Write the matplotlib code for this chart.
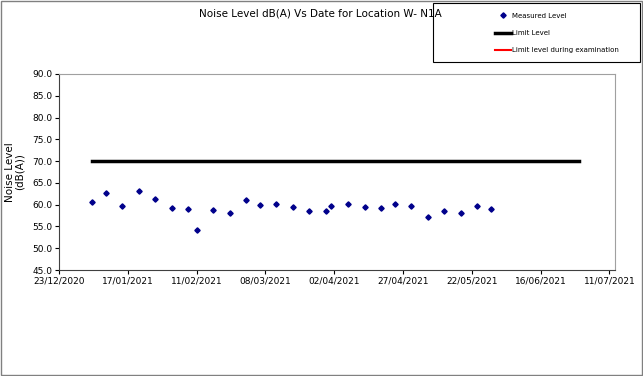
import datetime as dt
import matplotlib
matplotlib.use("Agg")
import matplotlib.pyplot as plt
import matplotlib.dates as mdates
from matplotlib.patches import Rectangle

# measured noise levels, dB(A)
dates = ["04/01/2021", "09/01/2021", "15/01/2021", "21/01/2021", "27/01/2021",
         "02/02/2021", "08/02/2021", "11/02/2021", "17/02/2021", "23/02/2021",
         "01/03/2021", "06/03/2021", "12/03/2021", "18/03/2021", "24/03/2021",
         "30/03/2021", "01/04/2021", "07/04/2021", "13/04/2021", "19/04/2021",
         "24/04/2021", "30/04/2021", "06/05/2021", "12/05/2021", "18/05/2021",
         "24/05/2021", "29/05/2021"]
levels = [60.7, 62.6, 59.6, 63.1, 61.4, 59.2, 58.9, 54.2, 58.7, 58.1,
          61.1, 59.9, 60.2, 59.4, 58.6, 58.5, 59.6, 60.2, 59.5, 59.2,
          60.2, 59.7, 57.2, 58.5, 58.2, 59.7, 59.1]

limit_dates = ["04/01/2021", "30/06/2021"]
limit_levels = [70.0, 70.0]

x_start = "23/12/2020"
tick_step_days = 25
n_ticks = 9

to_date = lambda s: dt.datetime.strptime(s, "%d/%m/%Y")
x = [to_date(d) for d in dates]
xl = [to_date(d) for d in limit_dates]
x0 = to_date(x_start)
ticks = [x0 + dt.timedelta(days=tick_step_days * i) for i in range(n_ticks)]

fig = plt.figure(figsize=(6.43, 3.76), dpi=100)
ax = fig.add_axes([59 / 643, 1 - 270 / 376, (615 - 59) / 643, (270 - 74) / 376])

ax.plot(x, levels, linestyle="none", marker="D", markersize=2.7,
        color="#00008b", label="Measured Level")
ax.plot(xl, limit_levels, color="black", linewidth=2.5, label="Limit Level")
ax.plot([], [], color="red", linewidth=1.5, label="Limit level during examination")

ax.set_xlim(x0, x0 + dt.timedelta(days=202))
ax.set_ylim(45, 90)
ax.set_yticks(range(45, 91, 5))
ax.yaxis.set_major_formatter(plt.FormatStrFormatter("%.1f"))
ax.set_xticks(ticks)
ax.xaxis.set_major_formatter(mdates.DateFormatter("%d/%m/%Y"))
ax.tick_params(labelsize=6.5, length=3, width=0.8, pad=1.5)

for side in ["top", "right"]:
    ax.spines[side].set_color("#a0a0a0")
for side in ["left", "bottom"]:
    ax.spines[side].set_color("#404040")

ax.set_ylabel("Noise Level\n(dB(A))", fontsize=7.5, linespacing=0.9, labelpad=6)

fig.text(320 / 643, 1 - 13 / 376, "Noise Level dB(A) Vs Date for Location W- N1A",
         ha="center", va="center", fontsize=7.5)

# legend box
fig.patches.append(Rectangle((433 / 643, 1 - 62 / 376), 207 / 643, 59 / 376,
                             transform=fig.transFigure, fill=False,
                             edgecolor="black", linewidth=0.8))
fig.legend(loc="center", bbox_to_anchor=(557 / 643, 1 - 33 / 376), frameon=False,
           fontsize=5, handlelength=2.3, labelspacing=1.6, handletextpad=0.2)

# outer border
fig.patches.append(Rectangle((0.001, 0.002), 0.997, 0.996, transform=fig.transFigure,
                             fill=False, edgecolor="#808080", linewidth=1))

fig.savefig("out.png", dpi=100)
